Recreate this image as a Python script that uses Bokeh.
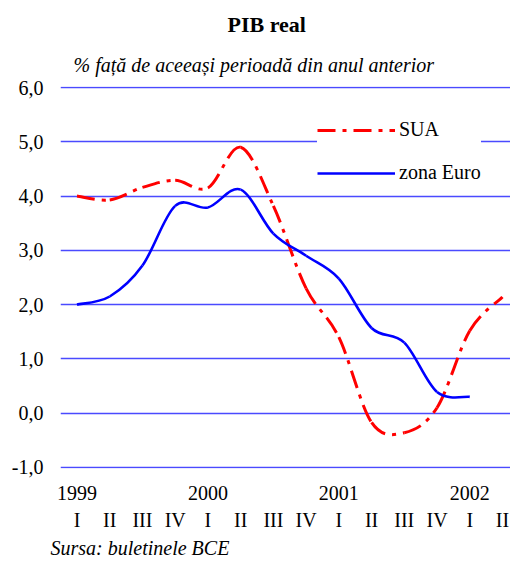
from bokeh.plotting import figure
from bokeh.models import Range1d, LinearAxis, FixedTicker, Title, Legend, LegendItem, ColumnDataSource
from bokeh.embed import file_html
from bokeh.resources import INLINE

# ---- data ----
quarter_labels = ["I", "II", "III", "IV", "I", "II", "III", "IV", "I", "II", "III", "IV", "I", "II"]
year_labels = ["1999", "2000", "2001", "2002"]
sua = [4.0, 3.93, 4.16, 4.29, 4.15, 4.9, 3.82, 2.3, 1.4, -0.17, -0.36, 0.1, 1.52, 2.14]
zona_euro = [2.0, 2.15, 2.72, 3.82, 3.79, 4.12, 3.31, 2.9, 2.48, 1.57, 1.3, 0.39, 0.3]
y_ticks = [-1, 0, 1, 2, 3, 4, 5, 6]

FONT = "Liberation Serif"

p = figure(width=510, height=561, output_backend="svg", toolbar_location=None,
           x_range=Range1d(-0.504, 13.245), y_range=Range1d(-1.02, 6.02),
           min_border_left=60, min_border_right=0, min_border_top=86, min_border_bottom=93)
p.outline_line_color = None
p.xgrid.visible = False
p.ygrid.ticker = FixedTicker(ticks=y_ticks)
p.ygrid.grid_line_color = "#2a2aff"
p.ygrid.grid_line_width = 1.3
p.ygrid.grid_line_alpha = 0.85


def smooth_segments(vals):
    """Catmull-Rom style Bezier segments through the data points (like a smoothed line)."""
    n = len(vals)
    xs = list(range(n))
    d = dict(x0=[], y0=[], x1=[], y1=[], cx0=[], cy0=[], cx1=[], cy1=[])
    for i in range(n - 1):
        im1 = max(i - 1, 0)
        ip2 = min(i + 2, n - 1)
        d["x0"].append(xs[i]); d["y0"].append(vals[i])
        d["x1"].append(xs[i + 1]); d["y1"].append(vals[i + 1])
        d["cx0"].append(xs[i] + (xs[i + 1] - xs[im1]) / 6.0)
        d["cy0"].append(vals[i] + (vals[i + 1] - vals[im1]) / 6.0)
        d["cx1"].append(xs[i + 1] - (xs[ip2] - xs[i]) / 6.0)
        d["cy1"].append(vals[i + 1] - (vals[ip2] - vals[i]) / 6.0)
    return ColumnDataSource(d)


r_sua = p.bezier(x0="x0", y0="y0", x1="x1", y1="y1", cx0="cx0", cy0="cy0", cx1="cx1", cy1="cy1",
                 source=smooth_segments(sua), line_color="#ff0000", line_width=3,
                 line_dash="18 7 4 7")
r_eur = p.bezier(x0="x0", y0="y0", x1="x1", y1="y1", cx0="cx0", cy0="cy0", cx1="cx1", cy1="cy1",
                 source=smooth_segments(zona_euro), line_color="#0000ff", line_width=2.6)

# ---- axes ----
p.yaxis.ticker = FixedTicker(ticks=y_ticks)
p.yaxis.major_label_overrides = {v: (f"{v},0") for v in y_ticks}
p.yaxis.axis_line_color = None
p.yaxis.major_tick_line_color = None
p.yaxis.minor_tick_line_color = None
p.yaxis.major_label_standoff = 11
p.yaxis.major_label_text_font = FONT
p.yaxis.major_label_text_font_size = "20px"
p.yaxis.major_label_text_color = "black"

xa = p.xaxis[0]
xa.ticker = FixedTicker(ticks=[0, 4, 8, 12])
xa.major_label_overrides = {i * 4: y for i, y in enumerate(year_labels)}
xa.axis_line_color = None
xa.major_tick_line_color = None
xa.minor_tick_line_color = None
xa.major_label_standoff = 11
xa.major_label_text_font = FONT
xa.major_label_text_font_size = "20px"
xa.major_label_text_color = "black"

qa = LinearAxis(ticker=FixedTicker(ticks=list(range(len(quarter_labels)))),
                major_label_overrides={i: q for i, q in enumerate(quarter_labels)})
qa.axis_line_color = None
qa.major_tick_line_color = None
qa.minor_tick_line_color = None
qa.major_label_standoff = 0
qa.major_label_text_font = FONT
qa.major_label_text_font_size = "20px"
qa.major_label_text_color = "black"
p.add_layout(qa, "below")

# ---- legend ----
legend = Legend(items=[LegendItem(label="SUA", renderers=[r_sua]),
                       LegendItem(label="zona Euro", renderers=[r_eur])],
                location=(257, 284), orientation="vertical")
legend.glyph_width = 78
legend.glyph_height = 22
legend.label_height = 22
legend.spacing = 20
legend.padding = 10
legend.margin = 0
legend.label_standoff = 4
legend.border_line_color = None
legend.background_fill_color = "white"
legend.background_fill_alpha = 1.0
legend.label_text_font = FONT
legend.label_text_font_size = "20px"
legend.label_text_color = "black"
p.add_layout(legend, "center")

# ---- texts ----
p.title.text = "PIB real"
p.title.text_font = FONT
p.title.text_font_size = "22px"
p.title.text_font_style = "bold"
p.title.text_color = "black"
p.title.align = "left"
p.title.offset = 167
p.title.standoff = 10

subtitle = Title(text="% față de aceeași perioadă din anul anterior", text_font=FONT,
                 text_font_size="20px", text_font_style="italic", text_color="black",
                 align="left", offset=13, standoff=21)
p.add_layout(subtitle, "above")

source_title = Title(text="Sursa: buletinele BCE", text_font=FONT, text_font_size="20px",
                     text_font_style="italic", text_color="black", align="left", offset=-10,
                     standoff=3)
p.add_layout(source_title, "below")

open("out.html", "w").write(file_html(p, INLINE))
